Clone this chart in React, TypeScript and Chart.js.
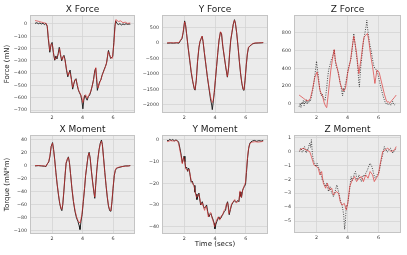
import React, { useEffect, useRef } from "react";
import { Chart, registerables } from "chart.js";

Chart.register(...registerables);

// ---------- data ----------
const X_MIN = 0.55;
const X_MAX = 7.44;
const timeTicks = [2, 4, 6];

const xForceTicks = [0, -100, -200, -300, -400, -500, -600, -700];
const yForceTicks = [500, 0, -500, -1000, -1500, -2000];
const zForceTicks = [0, 200, 400, 600, 800];
const xMomentTicks = [40, 20, 0, -20, -40, -60, -80, -100];
const yMomentTicks = [0, -10, -20, -30, -40];
const zMomentTicks = [1, 0, -1, -2, -3, -4, -5];

type Pt = [number, number];

const xForceMeasured: Pt[] = [
  [0.88, 5], [1.0, 10], [1.1, 2], [1.2, 8], [1.3, 0], [1.4, 6], [1.5, -5], [1.6, 5], [1.68, -20],
  [1.75, -120], [1.85, -230], [1.93, -170], [2.0, -150], [2.08, -230], [2.17, -295], [2.25, -260],
  [2.32, -285], [2.4, -240], [2.47, -190], [2.55, -250], [2.63, -300], [2.7, -270], [2.78, -255],
  [2.85, -290], [2.95, -380], [3.03, -430], [3.1, -400], [3.18, -375], [3.27, -450], [3.35, -530],
  [3.42, -490], [3.5, -455], [3.57, -445], [3.65, -500], [3.72, -535], [3.8, -560], [3.88, -580],
  [3.95, -620], [4.02, -690], [4.08, -620], [4.15, -580], [4.22, -600], [4.3, -620], [4.38, -590],
  [4.46, -580], [4.55, -545], [4.63, -505], [4.72, -450], [4.8, -380], [4.86, -360], [4.92, -450],
  [4.97, -540], [5.05, -500], [5.12, -470], [5.2, -455], [5.27, -420], [5.33, -400], [5.42, -370],
  [5.5, -345], [5.57, -320], [5.64, -260], [5.7, -215], [5.77, -250], [5.84, -280], [5.92, -270],
  [5.98, -265], [6.05, -150], [6.12, -20], [6.17, 25], [6.25, 5], [6.35, -5], [6.45, 3], [6.55, -8],
  [6.65, 0], [6.75, -5], [6.85, 2], [6.95, -3], [7.05, 0], [7.13, -2],
];
const xForcePredicted: Pt[] = [
  [0.88, 28], [1.0, 25], [1.15, 20], [1.3, 15], [1.45, 10], [1.6, 5], [1.68, -15], [1.78, -140],
  [1.85, -215], [1.95, -160], [2.03, -175], [2.12, -260], [2.2, -290], [2.3, -270], [2.4, -250],
  [2.5, -200], [2.58, -265], [2.66, -290], [2.75, -260], [2.85, -300], [2.95, -370], [3.05, -420],
  [3.15, -390], [3.25, -440], [3.35, -515], [3.45, -470], [3.55, -450], [3.65, -490], [3.75, -545],
  [3.85, -565], [3.95, -600], [4.02, -640], [4.1, -590], [4.2, -575], [4.3, -605], [4.4, -580],
  [4.5, -560], [4.6, -520], [4.7, -470], [4.8, -390], [4.87, -355], [4.95, -470], [5.02, -520],
  [5.12, -480], [5.22, -445], [5.32, -405], [5.42, -375], [5.52, -340], [5.6, -300], [5.68, -225],
  [5.76, -245], [5.85, -275], [5.95, -280], [6.05, -170], [6.12, -40], [6.18, 35], [6.25, 30],
  [6.35, 20], [6.5, 25], [6.65, 10], [6.8, 15], [6.95, 5], [7.13, 8],
];

const yForceMeasured: Pt[] = [
  [0.88, 0], [1.1, 5], [1.3, 0], [1.5, 10], [1.65, 0], [1.75, 80], [1.85, 150], [1.93, 350],
  [2.02, 720], [2.08, 600], [2.15, 300], [2.25, -150], [2.35, -550], [2.45, -950], [2.55, -1250],
  [2.65, -1480], [2.7, -1520], [2.78, -1200], [2.86, -600], [2.95, -150], [3.02, 50], [3.1, 150],
  [3.16, 220], [3.22, 50], [3.3, -300], [3.4, -700], [3.5, -1100], [3.6, -1450], [3.7, -1800],
  [3.78, -2000], [3.82, -2150], [3.88, -1900], [3.95, -1600], [4.02, -1200], [4.1, -750],
  [4.18, -300], [4.26, 100], [4.35, 360], [4.42, 300], [4.5, -100], [4.6, -450], [4.7, -800],
  [4.8, -1100], [4.88, -800], [4.95, -300], [5.02, 100], [5.1, 350], [5.18, 600], [5.26, 760],
  [5.32, 650], [5.4, 350], [5.5, -150], [5.58, -600], [5.66, -1000], [5.74, -1300], [5.82, -1500],
  [5.88, -1530], [5.95, -1200], [6.03, -700], [6.1, -350], [6.17, -150], [6.25, -100], [6.35, -60],
  [6.45, -20], [6.6, 0], [6.8, 5], [7.0, 10], [7.13, 15],
];
const yForcePredicted: Pt[] = [
  [0.88, 10], [1.1, 15], [1.3, 10], [1.5, 15], [1.65, 20], [1.75, 100], [1.85, 170], [1.93, 380],
  [2.02, 690], [2.08, 580], [2.15, 280], [2.25, -130], [2.35, -520], [2.45, -920], [2.55, -1230],
  [2.65, -1460], [2.7, -1500], [2.78, -1180], [2.86, -580], [2.95, -130], [3.02, 60], [3.1, 170],
  [3.16, 230], [3.22, 60], [3.3, -280], [3.4, -680], [3.5, -1080], [3.6, -1420], [3.7, -1720],
  [3.78, -1880], [3.82, -1920], [3.88, -1850], [3.95, -1560], [4.02, -1170], [4.1, -720],
  [4.18, -280], [4.26, 110], [4.35, 370], [4.42, 310], [4.5, -80], [4.6, -430], [4.7, -780],
  [4.8, -1080], [4.88, -780], [4.95, -280], [5.02, 120], [5.1, 370], [5.18, 620], [5.26, 740],
  [5.32, 640], [5.4, 340], [5.5, -140], [5.58, -580], [5.66, -980], [5.74, -1280], [5.82, -1480],
  [5.88, -1510], [5.95, -1180], [6.03, -680], [6.1, -330], [6.17, -130], [6.25, -90], [6.35, -50],
  [6.45, -10], [6.6, 5], [6.8, 10], [7.0, 15], [7.13, 20],
];

const zForceMeasured: Pt[] = [
  [0.88, -30], [0.95, 10], [1.0, -40], [1.05, 20], [1.1, 0], [1.15, 40], [1.2, -20], [1.25, 30],
  [1.3, 10], [1.35, 50], [1.4, 0], [1.45, 25], [1.5, 15], [1.55, 45], [1.6, 30], [1.67, 80],
  [1.75, 150], [1.83, 240], [1.9, 330], [1.96, 420], [2.0, 480], [2.05, 400], [2.1, 340],
  [2.15, 260], [2.2, 180], [2.26, 120], [2.32, 90], [2.38, 110], [2.44, 70], [2.5, 50], [2.55, 40],
  [2.6, 100], [2.66, 190], [2.72, 300], [2.78, 380], [2.84, 420], [2.9, 460], [2.96, 500],
  [3.02, 520], [3.08, 560], [3.14, 610], [3.2, 500], [3.27, 420], [3.33, 400], [3.4, 360],
  [3.46, 300], [3.52, 240], [3.57, 200], [3.62, 150], [3.68, 90], [3.73, 180], [3.79, 140],
  [3.85, 220], [3.92, 270], [3.98, 330], [4.04, 400], [4.1, 430], [4.16, 470], [4.23, 520],
  [4.3, 620], [4.36, 720], [4.4, 790], [4.45, 720], [4.5, 650], [4.56, 560], [4.62, 480],
  [4.67, 380], [4.72, 250], [4.76, 190], [4.8, 300], [4.85, 420], [4.9, 500], [4.96, 600],
  [5.02, 700], [5.08, 760], [5.14, 820], [5.2, 880], [5.24, 940], [5.28, 860], [5.34, 780],
  [5.4, 700], [5.46, 640], [5.52, 600], [5.58, 530], [5.64, 470], [5.7, 420], [5.76, 400],
  [5.82, 390], [5.88, 370], [5.94, 340], [6.0, 300], [6.06, 250], [6.12, 200], [6.18, 160],
  [6.24, 120], [6.3, 80], [6.36, 50], [6.42, 20], [6.48, 0], [6.54, 10], [6.6, -10], [6.66, 0],
  [6.72, 5], [6.78, -15], [6.84, 0], [6.9, 30], [6.96, 0], [7.02, -10], [7.08, 0], [7.13, -5],
];
const zForcePredicted: Pt[] = [
  [0.88, 100], [1.0, 85], [1.15, 65], [1.3, 45], [1.45, 35], [1.6, 60], [1.75, 170], [1.89, 300],
  [2.04, 360], [2.12, 270], [2.22, 155], [2.32, 110], [2.4, 80], [2.5, 10], [2.6, -30], [2.66, -40],
  [2.75, 100], [2.83, 230], [2.92, 380], [2.98, 450], [3.06, 540], [3.14, 610], [3.22, 480],
  [3.31, 420], [3.42, 330], [3.53, 230], [3.62, 180], [3.7, 150], [3.78, 150], [3.86, 175],
  [3.94, 260], [4.0, 340], [4.1, 420], [4.19, 490], [4.3, 640], [4.4, 760], [4.48, 680],
  [4.58, 570], [4.66, 440], [4.73, 340], [4.8, 430], [4.89, 530], [4.97, 650], [5.06, 750],
  [5.16, 770], [5.28, 790], [5.36, 720], [5.43, 620], [5.52, 510], [5.61, 420], [5.69, 320],
  [5.76, 230], [5.82, 300], [5.89, 380], [5.96, 370], [6.04, 350], [6.15, 270], [6.26, 190],
  [6.37, 110], [6.48, 45], [6.56, 20], [6.63, 25], [6.72, 10], [6.85, 40], [7.0, 70], [7.13, 100],
];

const xMomentMeasured: Pt[] = [
  [0.88, 0], [1.1, 0.5], [1.3, 0], [1.5, -0.5], [1.6, -1], [1.68, 3], [1.78, 6], [1.86, 15],
  [1.94, 30], [2.03, 36], [2.1, 25], [2.17, 10], [2.25, -10], [2.33, -28], [2.42, -45], [2.5, -58],
  [2.58, -66], [2.64, -69], [2.7, -60], [2.77, -40], [2.85, -15], [2.92, 4], [3.0, 10], [3.07, 14],
  [3.14, 5], [3.21, -12], [3.3, -35], [3.4, -55], [3.5, -70], [3.6, -80], [3.7, -86], [3.77, -92],
  [3.83, -98], [3.9, -85], [3.97, -75], [4.05, -55], [4.13, -35], [4.2, -15], [4.28, 0], [4.36, 15],
  [4.43, 21], [4.5, 12], [4.58, -8], [4.66, -25], [4.74, -40], [4.8, -50], [4.86, -30], [4.93, -8],
  [5.0, 10], [5.08, 25], [5.16, 35], [5.24, 40], [5.3, 33], [5.38, 12], [5.46, -10], [5.54, -30],
  [5.62, -48], [5.7, -62], [5.78, -69], [5.86, -70], [5.93, -55], [6.0, -35], [6.08, -15],
  [6.15, -7], [6.22, -4], [6.3, -3], [6.45, -2], [6.6, -1], [6.8, 0], [7.0, 0], [7.13, 0.5],
];
const xMomentPredicted: Pt[] = [
  [0.88, 0.5], [1.1, 0.5], [1.3, 0.3], [1.5, 0], [1.6, -0.5], [1.68, 3], [1.78, 7], [1.86, 16],
  [1.94, 30], [2.03, 35], [2.1, 24], [2.17, 9], [2.25, -11], [2.33, -28], [2.42, -44], [2.5, -57],
  [2.58, -65], [2.64, -67], [2.7, -59], [2.77, -39], [2.85, -14], [2.92, 5], [3.0, 11], [3.07, 13],
  [3.14, 4], [3.21, -12], [3.3, -34], [3.4, -54], [3.5, -68], [3.6, -78], [3.7, -84], [3.77, -87],
  [3.83, -88], [3.9, -82], [3.97, -72], [4.05, -53], [4.13, -34], [4.2, -14], [4.28, 1], [4.36, 15],
  [4.43, 20], [4.5, 11], [4.58, -8], [4.66, -25], [4.74, -39], [4.8, -48], [4.86, -29], [4.93, -7],
  [5.0, 10], [5.08, 24], [5.16, 34], [5.24, 38], [5.3, 32], [5.38, 11], [5.46, -10], [5.54, -29],
  [5.62, -47], [5.7, -61], [5.78, -68], [5.86, -69], [5.93, -54], [6.0, -34], [6.08, -14],
  [6.15, -6], [6.22, -3], [6.3, -2.5], [6.45, -1.5], [6.6, -1], [6.8, -0.5], [7.0, 0], [7.13, 0.5],
];

const yMomentMeasured: Pt[] = [
  [0.88, 0], [0.95, -0.5], [1.05, 0.3], [1.15, -0.2], [1.25, 0.2], [1.35, -0.4], [1.45, 0],
  [1.55, -0.3], [1.63, -1], [1.72, -4], [1.8, -7], [1.87, -10.5], [1.93, -9], [1.98, -7.5],
  [2.04, -10], [2.09, -13], [2.15, -12.5], [2.22, -14.5], [2.28, -13], [2.33, -14], [2.39, -17],
  [2.45, -19.5], [2.52, -19], [2.58, -20.5], [2.64, -21], [2.69, -24], [2.76, -25], [2.82, -27.5],
  [2.88, -26], [2.95, -24.5], [3.0, -27], [3.06, -30], [3.12, -29], [3.17, -28.5], [3.24, -30.5],
  [3.3, -31.5], [3.37, -31], [3.45, -30], [3.52, -33], [3.6, -35.5], [3.66, -34.5], [3.73, -34],
  [3.8, -35.5], [3.88, -37], [3.94, -38.5], [3.99, -41], [4.05, -39], [4.12, -37.5], [4.18, -36.5],
  [4.25, -35.5], [4.31, -36.5], [4.38, -36], [4.45, -35], [4.53, -34], [4.6, -33], [4.68, -32.5],
  [4.74, -30], [4.81, -28.5], [4.87, -31], [4.92, -34.5], [5.0, -32], [5.07, -30], [5.15, -29],
  [5.24, -28], [5.32, -28.5], [5.4, -28.5], [5.48, -28], [5.55, -28.5], [5.6, -25], [5.63, -24],
  [5.68, -26], [5.72, -26.5], [5.78, -23.5], [5.83, -22.5], [5.9, -21.5], [5.98, -20.5],
  [6.04, -15], [6.11, -8.5], [6.18, -4], [6.26, -1.5], [6.34, -0.8], [6.42, -0.5], [6.55, -0.2],
  [6.7, -0.6], [6.85, -0.3], [7.0, -0.5], [7.13, -0.2],
];
const yMomentPredicted: Pt[] = [
  [0.88, -0.8], [1.1, -0.3], [1.3, -0.5], [1.5, -0.2], [1.63, -1.5], [1.72, -5], [1.8, -8],
  [1.87, -11], [1.95, -8], [2.02, -9.5], [2.1, -13.5], [2.2, -14], [2.3, -13.5], [2.38, -16],
  [2.45, -19], [2.55, -20], [2.65, -21.5], [2.72, -24.5], [2.8, -26.5], [2.88, -25.5], [2.95, -25],
  [3.03, -28], [3.1, -30], [3.18, -29], [3.25, -31], [3.32, -32.5], [3.4, -30.5], [3.48, -32],
  [3.56, -35.5], [3.64, -34], [3.72, -33.5], [3.8, -36], [3.9, -38], [3.97, -40], [4.03, -38.5],
  [4.1, -37], [4.2, -35.5], [4.3, -37], [4.4, -35], [4.5, -34.5], [4.58, -32.5], [4.66, -32],
  [4.74, -29.5], [4.82, -29], [4.9, -34], [4.98, -32.5], [5.08, -29.5], [5.18, -28.5],
  [5.28, -27.5], [5.38, -29], [5.48, -28.5], [5.56, -27.5], [5.62, -23.5], [5.7, -26.5],
  [5.8, -23], [5.9, -21], [5.98, -19.5], [6.05, -13], [6.12, -7], [6.2, -3], [6.28, -1.5],
  [6.4, -1], [6.6, -0.8], [6.8, -1], [7.0, -0.8], [7.13, -0.6],
];

const zMomentMeasured: Pt[] = [
  [0.91, 0], [0.96, 0.2], [1.02, 0.24], [1.07, -0.05], [1.13, 0], [1.18, 0.3], [1.23, 0.36],
  [1.29, 0.05], [1.34, -0.1], [1.4, 0.2], [1.45, 0.1], [1.5, 0.4], [1.56, 0.6], [1.62, 0.3],
  [1.67, 0.85], [1.74, -0.25], [1.78, -0.5], [1.83, -0.72], [1.9, -0.9], [1.96, -1.08],
  [2.04, -0.84], [2.1, -1.1], [2.17, -1.2], [2.22, -1.4], [2.26, -1.56], [2.32, -1.8],
  [2.37, -2.04], [2.43, -2.1], [2.48, -2.28], [2.57, -2.52], [2.62, -2.3], [2.66, -2.28],
  [2.72, -2.6], [2.77, -2.88], [2.82, -2.7], [2.87, -2.52], [2.93, -2.8], [2.98, -3.0],
  [3.04, -3.1], [3.09, -3.25], [3.15, -3.0], [3.2, -2.88], [3.26, -2.6], [3.31, -2.4],
  [3.37, -2.7], [3.42, -2.88], [3.48, -3.2], [3.53, -3.49], [3.58, -3.7], [3.64, -3.85],
  [3.7, -4.2], [3.75, -4.57], [3.81, -5.6], [3.86, -5.0], [3.92, -3.85], [3.97, -3.9],
  [4.01, -3.73], [4.08, -3.2], [4.14, -2.64], [4.18, -2.2], [4.23, -1.8], [4.3, -2.1],
  [4.36, -1.92], [4.43, -1.6], [4.51, -1.44], [4.57, -1.8], [4.62, -2.04], [4.68, -1.9],
  [4.73, -1.68], [4.8, -1.9], [4.89, -2.16], [4.95, -1.9], [5.02, -1.68], [5.1, -1.8],
  [5.17, -1.56], [5.25, -1.4], [5.32, -1.2], [5.38, -1.0], [5.45, -0.84], [5.5, -0.95],
  [5.56, -1.08], [5.62, -1.3], [5.67, -1.56], [5.72, -1.75], [5.78, -1.92], [5.84, -1.8],
  [5.89, -1.68], [5.95, -1.6], [6.0, -1.56], [6.06, -1.3], [6.11, -0.96], [6.18, -0.6],
  [6.26, -0.24], [6.32, 0.1], [6.37, 0.36], [6.42, 0.2], [6.48, 0.12], [6.54, -0.05], [6.59, 0],
  [6.67, 0.15], [6.76, 0.24], [6.84, 0.05], [6.92, -0.12], [7.0, 0.05], [7.07, 0.12], [7.13, 0.24],
];
const zMomentPredicted: Pt[] = [
  [0.91, 0.1], [1.13, 0.24], [1.34, 0.1], [1.56, 0], [1.67, -0.36], [1.83, -0.96], [2.0, -1.08],
  [2.11, -1.2], [2.22, -1.68], [2.33, -1.44], [2.44, -2.28], [2.59, -2.64], [2.7, -2.28],
  [2.83, -2.76], [2.98, -2.64], [3.09, -3.13], [3.27, -2.88], [3.42, -3.0], [3.53, -3.6],
  [3.64, -3.85], [3.79, -3.73], [3.92, -4.2], [4.01, -3.73], [4.14, -2.52], [4.3, -2.04],
  [4.45, -1.8], [4.58, -2.16], [4.73, -1.92], [4.89, -1.8], [5.02, -2.16], [5.17, -1.68],
  [5.32, -1.92], [5.45, -1.44], [5.61, -1.68], [5.72, -2.16], [5.85, -1.92], [5.98, -1.68],
  [6.11, -0.84], [6.26, 0], [6.42, 0.12], [6.59, 0.24], [6.81, 0], [7.03, 0.12], [7.13, 0.36],
];

// ---------- styling ----------
const FONT = "'DejaVu Sans', sans-serif";
const BG = "#ebebeb";
const GRID = "#d4d4d4";
const EDGE = "#c4c4c4";
const TICK_COLOR = "#3a3a3a";
const Y_AXIS_W = 30;
const TITLE_H = 15;
const X_AXIS_H = 17;
const RIGHT_PAD = 3;

type PanelSpec = {
  title: string;
  left: number;
  top: number;
  right: number;
  bottom: number;
  yMin: number;
  yMax: number;
  yTicks: number[];
  yLabel?: string;
  xLabel?: string;
  measured: Pt[];
  predicted: Pt[];
  dotted?: boolean;
};

const panels: PanelSpec[] = [
  { title: "X Force", left: 30, top: 15, right: 135, bottom: 113, yMin: -724, yMax: 73, yTicks: xForceTicks, yLabel: "Force (mN)", measured: xForceMeasured, predicted: xForcePredicted },
  { title: "Y Force", left: 162, top: 15, right: 268, bottom: 113, yMin: -2259, yMax: 911, yTicks: yForceTicks, measured: yForceMeasured, predicted: yForcePredicted },
  { title: "Z Force", left: 294, top: 15, right: 401, bottom: 113, yMin: -101, yMax: 998, yTicks: zForceTicks, measured: zForceMeasured, predicted: zForcePredicted, dotted: true },
  { title: "X Moment", left: 30, top: 135, right: 135, bottom: 234, yMin: -105, yMax: 47.7, yTicks: xMomentTicks, yLabel: "Torque (mN*m)", measured: xMomentMeasured, predicted: xMomentPredicted },
  { title: "Y Moment", left: 162, top: 135, right: 268, bottom: 234, yMin: -43.4, yMax: 2.3, yTicks: yMomentTicks, xLabel: "Time (secs)", measured: yMomentMeasured, predicted: yMomentPredicted },
  { title: "Z Moment", left: 294, top: 135, right: 401, bottom: 233, yMin: -5.86, yMax: 1.19, yTicks: zMomentTicks, measured: zMomentMeasured, predicted: zMomentPredicted, dotted: true },
];

const fmt = (v: number) => (v < 0 ? "\u2212" + Math.abs(v) : String(v));
const toXY = (pts: Pt[]) => pts.map(([x, y]) => ({ x, y }));

function Panel({ spec }: { spec: PanelSpec }) {
  const ref = useRef<HTMLCanvasElement>(null);
  const w = spec.right - spec.left + Y_AXIS_W + RIGHT_PAD;
  const h = spec.bottom - spec.top + TITLE_H + X_AXIS_H;

  useEffect(() => {
    const framePlugin = {
      id: "frame" + spec.title.replace(/\s/g, ""),
      beforeDraw(chart: any) {
        const { ctx, chartArea: a } = chart;
        ctx.save();
        ctx.fillStyle = BG;
        ctx.fillRect(a.left, a.top, a.right - a.left, a.bottom - a.top);
        ctx.restore();
      },
      beforeDatasetsDraw(chart: any) {
        const { ctx, chartArea: a } = chart;
        ctx.save();
        ctx.strokeStyle = EDGE;
        ctx.lineWidth = 1;
        ctx.strokeRect(a.left + 0.5, a.top + 0.5, a.right - a.left - 1, a.bottom - a.top - 1);
        ctx.restore();
      },
      afterDraw(chart: any) {
        const { ctx, chartArea: a } = chart;
        ctx.save();
        ctx.fillStyle = "#1a1a1a";
        ctx.font = `9px ${FONT}`;
        ctx.textAlign = "center";
        ctx.textBaseline = "middle";
        ctx.fillText(spec.title, (a.left + a.right) / 2, a.top - 5.5);
        ctx.restore();
      },
    };

    const chart = new Chart(ref.current as HTMLCanvasElement, {
      type: "line",
      data: {
        datasets: [
          {
            data: toXY(spec.measured),
            borderColor: spec.dotted ? "rgba(20,20,20,0.85)" : "#151515",
            borderWidth: 0.9,
            borderDash: spec.dotted ? [1, 1.4] : [],
            pointRadius: 0,
            tension: 0,
            order: 2,
          },
          {
            data: toXY(spec.predicted),
            borderColor: "rgba(220,45,45,0.72)",
            borderWidth: 0.9,
            pointRadius: 0,
            tension: 0,
            order: 1,
          },
        ],
      },
      options: {
        responsive: false,
        animation: false,
        devicePixelRatio: 1,
        events: [],
        layout: { padding: { left: 0, right: RIGHT_PAD, top: TITLE_H, bottom: 0 } },
        plugins: { legend: { display: false }, tooltip: { enabled: false }, title: { display: false } },
        scales: {
          x: {
            type: "linear",
            min: X_MIN,
            max: X_MAX,
            afterBuildTicks: (s: any) => {
              s.ticks = timeTicks.map((v) => ({ value: v }));
            },
            afterFit: (s: any) => {
              s.height = X_AXIS_H;
            },
            grid: { color: GRID, lineWidth: 0.8, drawTicks: false },
            border: { display: false },
            ticks: {
              padding: 2,
              color: TICK_COLOR,
              font: { family: FONT, size: 4.8 },
              maxRotation: 0,
              autoSkip: false,
              callback: (v: any) => fmt(Number(v)),
            },
            title: {
              display: !!spec.xLabel,
              text: spec.xLabel || "",
              color: "#1a1a1a",
              font: { family: FONT, size: 7 },
              padding: { top: 0, bottom: 3 },
            },
          },
          y: {
            type: "linear",
            min: spec.yMin,
            max: spec.yMax,
            afterBuildTicks: (s: any) => {
              s.ticks = spec.yTicks.map((v) => ({ value: v }));
            },
            afterFit: (s: any) => {
              s.width = Y_AXIS_W;
            },
            grid: { color: GRID, lineWidth: 0.8, drawTicks: false },
            border: { display: false },
            ticks: {
              padding: 3,
              color: TICK_COLOR,
              font: { family: FONT, size: 4.8 },
              autoSkip: false,
              callback: (v: any) => fmt(Number(v)),
            },
            title: {
              display: !!spec.yLabel,
              text: spec.yLabel || "",
              color: "#1a1a1a",
              font: { family: FONT, size: 7 },
              padding: { top: 3, bottom: 0 },
            },
          },
        },
      },
      plugins: [framePlugin],
    } as any);
    return () => chart.destroy();
  }, []);

  return (
    <div
      style={{
        position: "absolute",
        left: spec.left - Y_AXIS_W,
        top: spec.top - TITLE_H,
        width: w,
        height: h,
      }}
    >
      <canvas ref={ref} width={w} height={h} style={{ display: "block", width: w, height: h }} />
    </div>
  );
}

export default function App() {
  return (
    <div style={{ position: "absolute", left: 0, top: 0, width: 407, height: 255, background: "#ffffff", overflow: "hidden" }}>
      {panels.map((p) => (
        <Panel key={p.title} spec={p} />
      ))}
    </div>
  );
}
